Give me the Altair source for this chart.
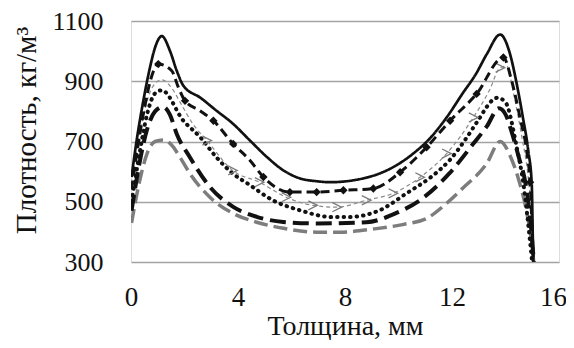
import altair as alt
import pandas as pd

# ---- data ----
a_x = [0.02, 0.21, 0.46, 0.71, 0.9, 1.15, 1.46, 1.71, 1.96, 2.6, 3.2, 3.8, 4.45, 5.1, 5.7, 6.3, 6.95, 7.45, 8.7, 9.3, 9.9, 10.55, 11.2, 11.8, 12.4, 12.9, 13.3, 13.8, 14.17, 14.4, 14.65, 14.85, 14.98, 15.04, 15.1]
a_v = [582, 703, 835, 946, 1012, 1050, 1000, 935, 885, 845, 802, 760, 703, 647, 604, 578, 568, 565, 578, 594, 620, 660, 713, 780, 860, 925, 990, 1055, 990, 900, 780, 670, 561, 307, 250]

b_x = [0.02, 0.25, 0.5, 0.75, 1.02, 1.52, 1.77, 2.02, 2.58, 3.08, 3.82, 4.45, 4.95, 5.94, 6.94, 7.94, 9.06, 10.06, 11.05, 11.93, 12.92, 13.92, 14.23, 14.54, 14.79, 14.92, 15.05, 15.1]
b_v = [540, 680, 810, 910, 957, 935, 880, 835, 802, 769, 692, 637, 582, 532, 532, 538, 544, 598, 681, 769, 858, 979, 902, 780, 670, 565, 300, 250]
b_mark = [0, 0, 0, 0, 1, 0, 0, 1, 0, 1, 1, 0, 1, 1, 1, 1, 1, 1, 1, 1, 1, 1, 0, 0, 0, 1, 0, 0]

c_x = [0.02, 0.25, 0.5, 0.8, 1.15, 1.5, 1.9, 2.3, 2.84, 3.8, 4.8, 5.8, 6.8, 7.7, 8.8, 9.8, 10.8, 11.8, 12.8, 13.4, 13.8, 14.05, 14.3, 14.6, 14.85, 15.0, 15.1]
c_v = [560, 690, 800, 880, 905, 880, 820, 760, 703, 604, 565, 515, 488, 482, 505, 528, 581, 660, 780, 870, 945, 950, 860, 720, 580, 430, 250]
c_mark = [0, 0, 0, 0, 0, 0, 0, 0, 1, 1, 1, 1, 1, 1, 1, 1, 1, 1, 1, 0, 1, 0, 0, 0, 0, 0, 0]

d_x = [0.02, 0.3, 0.6, 0.9, 1.15, 1.95, 2.6, 3.2, 3.8, 4.45, 5.3, 6.3, 7.55, 8.1, 9.3, 10.3, 11.2, 11.9, 12.55, 12.9, 13.7, 14.0, 14.4, 14.7, 14.9, 15.05]
d_v = [500, 650, 790, 860, 870, 770, 713, 647, 594, 555, 505, 472, 449, 449, 472, 528, 581, 637, 713, 760, 845, 830, 690, 540, 383, 250]

e_x = [0.02, 0.3, 0.6, 0.9, 1.2, 1.45, 1.71, 2.2, 2.95, 3.82, 4.7, 5.69, 6.94, 8.8, 9.9, 10.8, 11.9, 12.8, 13.3, 13.75, 14.0, 14.25, 14.5, 14.75, 14.95, 15.1]
e_v = [470, 620, 740, 800, 815, 790, 725, 648, 549, 483, 450, 433, 428, 432, 462, 505, 594, 693, 750, 810, 790, 726, 647, 560, 420, 250]

f_x = [0.02, 0.3, 0.6, 0.9, 1.2, 1.5, 1.83, 2.2, 2.95, 3.8, 4.7, 5.7, 6.95, 7.8, 9.1, 10.2, 11.06, 11.8, 12.4, 13.3, 13.8, 14.2, 14.5, 14.8, 15.0, 15.1]
f_v = [430, 560, 660, 700, 705, 690, 648, 594, 515, 462, 432, 412, 399, 399, 410, 425, 445, 495, 545, 627, 700, 647, 571, 462, 350, 250]

x_ticks = [0, 4, 8, 12, 16]
y_ticks = [300, 500, 700, 900, 1100]
x_title = "Толщина, мм"
y_title = "Плотность, кг/м³"

FONT = "Liberation Serif"

xs = alt.Scale(domain=[0, 16], nice=False, zero=False)
ys = alt.Scale(domain=[300, 1100], nice=False, zero=False)

X_AX = alt.Axis(values=x_ticks, format="d", grid=False, domain=False, ticks=False, tickSize=0,
                labelPadding=22, labelFont=FONT, labelFontSize=27, labelColor="#111",
                labelOffset={"condition": {"test": "datum.value == 16", "value": -6}, "value": 0},
                titleFont=FONT, titleFontSize=28, titleFontWeight="normal", titleColor="#111",
                titleBaseline="alphabetic", titleY=72, labelFlush=False)
Y_AX = alt.Axis(values=y_ticks, format="d", grid=True, gridColor="#a3a3a3", gridWidth=1.5,
                domain=False, ticks=False, tickSize=0, labelPadding=28,
                labelFont=FONT, labelFontSize=26, labelColor="#111",
                titleFont=FONT, titleFontSize=29, titleFontWeight="normal", titleColor="#111",
                titleBaseline="alphabetic", titleX=-96, titleY=109, titleAngle=-90,
                labelFlush=False)

XE = alt.X("x:Q", scale=xs, title=x_title, axis=X_AX)
YE = alt.Y("v:Q", scale=ys, title=y_title, axis=Y_AX)


def line(xv, vv, color, width, dash, cap="butt"):
    df = pd.DataFrame({"x": xv, "v": vv})
    return alt.Chart(df).mark_line(
        color=color, strokeWidth=width, strokeDash=dash, strokeCap=cap,
        interpolate="monotone", clip=True
    ).encode(x=XE, y=YE)


lf = line(f_x, f_v, "#7d7d7d", 3.5, [14, 6])
le = line(e_x, e_v, "#111111", 4, [16, 7])
ld = line(d_x, d_v, "#111111", 4, [0.5, 6], "round")
lc = line(c_x, c_v, "#8a8a8a", 1.2, [4, 3])
lb = line(b_x, b_v, "#111111", 3, [9, 5])
la = line(a_x, a_v, "#111111", 2.7, [1, 0])

bdf = pd.DataFrame({"x": b_x, "v": b_v, "m": b_mark})
mb = alt.Chart(bdf).transform_filter("datum.m == 1").mark_point(
    shape="diamond", filled=True, color="#111111", size=70, opacity=1
).encode(x=XE, y=YE)

cdf = pd.DataFrame({"x": c_x, "v": c_v, "m": c_mark})
mc = alt.Chart(cdf).transform_filter("datum.m == 1").mark_point(
    shape="M-0.8,-0.8L0.8,0L-0.8,0.8", filled=False, color="#7a7a7a", strokeWidth=1.3, size=130, opacity=1
).encode(x=XE, y=YE)

chart = alt.layer(lf, le, ld, lc, mc, lb, mb, la).properties(
    width=428, height=241,
    autosize=alt.AutoSizeParams(type="none"),
    padding={"left": 123, "top": 13, "right": 7, "bottom": 78},
).configure_view(stroke="#a0a0a0", strokeWidth=1.5).configure_axis(
    labelFont=FONT, titleFont=FONT
).configure(background="white")

chart.save("out.html", embed_options={"renderer": "svg", "actions": False})
